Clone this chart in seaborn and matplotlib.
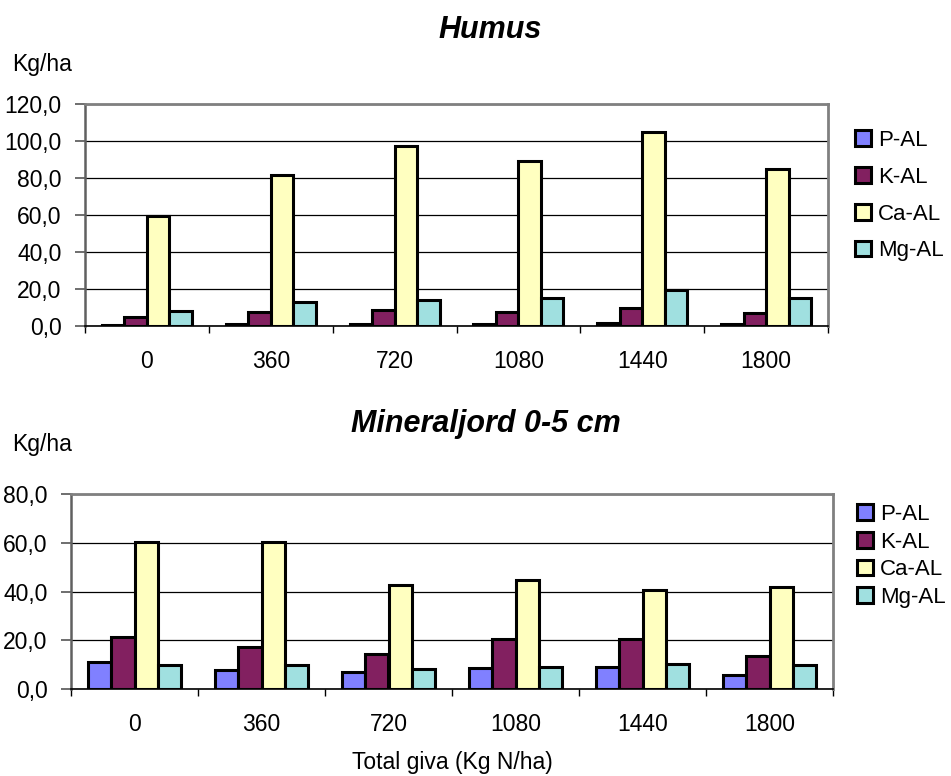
import matplotlib
matplotlib.use("Agg")
import matplotlib.pyplot as plt
from matplotlib.patches import Patch
from matplotlib.ticker import FuncFormatter, FixedLocator
import numpy as np
import pandas as pd
import seaborn as sns

# ---- data ----
giva = ["0", "360", "720", "1080", "1440", "1800"]
elements = ["P-AL", "K-AL", "Ca-AL", "Mg-AL"]

humus_P = [0.8, 1.2, 1.2, 1.2, 1.5, 1.2]
humus_K = [4.9, 7.7, 8.6, 7.6, 9.9, 7.0]
humus_Ca = [59.6, 81.4, 97.5, 89.0, 104.7, 84.9]
humus_Mg = [8.1, 13.0, 14.2, 15.3, 19.3, 15.0]

mineral_P = [11.2, 7.8, 7.0, 8.8, 8.9, 5.8]
mineral_K = [21.5, 17.3, 14.5, 20.7, 20.7, 13.7]
mineral_Ca = [60.4, 60.4, 42.6, 44.8, 40.8, 41.8]
mineral_Mg = [9.9, 9.9, 8.1, 8.9, 10.4, 9.9]

humus_ticks = [0, 20, 40, 60, 80, 100, 120]
mineral_ticks = [0, 20, 40, 60, 80]

colors = ["#8080FF", "#822060", "#FFFFC0", "#A0E0E0"]


def long_df(series):
    rows = []
    for el, vals in zip(elements, series):
        for g, v in zip(giva, vals):
            rows.append({"giva": g, "element": el, "value": v})
    return pd.DataFrame(rows)


df_h = long_df([humus_P, humus_K, humus_Ca, humus_Mg])
df_m = long_df([mineral_P, mineral_K, mineral_Ca, mineral_Mg])

sns.set_style("white")
plt.rcParams["font.family"] = ["Liberation Sans", "DejaVu Sans"]
plt.rcParams["text.color"] = "black"
plt.rcParams["xtick.color"] = "black"
plt.rcParams["ytick.color"] = "black"
plt.rcParams["axes.labelcolor"] = "black"

W, H = 951, 776
fig = plt.figure(figsize=(W / 100, H / 100), dpi=100)

def fx(px):
    return px / W

def fy(py):
    return 1 - py / H

ax1 = fig.add_axes([fx(85), fy(326), fx(828) - fx(85), fy(104) - fy(326)])
ax2 = fig.add_axes([fx(71), fy(689), fx(833) - fx(71), fy(494) - fy(689)])

fmt = FuncFormatter(lambda v, p: f"{v:.1f}".replace(".", ","))

for ax, df, ticks in [(ax1, df_h, humus_ticks), (ax2, df_m, mineral_ticks)]:
    sns.barplot(data=df, x="giva", y="value", hue="element", order=giva,
                hue_order=elements, palette=colors, width=0.727,
                edgecolor="black", linewidth=2.2, ax=ax, legend=False,
                saturation=1)
    ax.set_xlim(-0.5, 5.5)
    ax.set_ylim(ticks[0], ticks[-1])
    ax.yaxis.set_major_locator(FixedLocator(ticks))
    ax.yaxis.set_major_formatter(fmt)
    ax.yaxis.grid(True, color="black", lw=0.9)
    ax.set_axisbelow(True)
    ax.set_xlabel("")
    ax.set_ylabel("")
    ax.xaxis.set_minor_locator(FixedLocator(np.arange(-0.5, 6.0, 1.0)))
    ax.tick_params(axis="x", which="major", length=0, pad=17, labelsize=16.5,
                   labelcolor="black")
    ax.tick_params(axis="x", which="minor", length=5, width=1, color="black",
                   direction="out", bottom=True)
    ax.tick_params(axis="y", which="major", length=7, width=1.2,
                   color="#555555", direction="out", left=True, pad=10,
                   labelsize=16.5, labelcolor="black")
    for s in ["top", "right"]:
        ax.spines[s].set_color("#808080")
        ax.spines[s].set_linewidth(2)
        ax.spines[s].set_visible(True)
    ax.spines["left"].set_color("#606060")
    ax.spines["left"].set_linewidth(1.8)
    ax.spines["bottom"].set_color("black")
    ax.spines["bottom"].set_linewidth(1.2)

handles = [Patch(facecolor=c, edgecolor="black", linewidth=2.2) for c in colors]

fig.legend(handles, elements, loc="upper left",
           bbox_to_anchor=(fx(855), fy(130)), frameon=False, fontsize=16,
           handlelength=0.72, handleheight=0.72, handletextpad=0.3,
           labelspacing=0.71, borderpad=0, borderaxespad=0)
fig.legend(handles, elements, loc="upper left",
           bbox_to_anchor=(fx(857), fy(504)), frameon=False, fontsize=16,
           handlelength=0.72, handleheight=0.72, handletextpad=0.3,
           labelspacing=0.3, borderpad=0, borderaxespad=0)

fig.text(fx(490), fy(30), "Humus", fontsize=22, fontweight="bold",
         fontstyle="italic", ha="center", va="center")
fig.text(fx(486), fy(424), "Mineraljord 0-5 cm", fontsize=22,
         fontweight="bold", fontstyle="italic", ha="center", va="center")
fig.text(fx(12), fy(64), "Kg/ha", fontsize=16.5, ha="left", va="center")
fig.text(fx(12), fy(445), "Kg/ha", fontsize=16.5, ha="left", va="center")
fig.text(fx(452), fy(763), "Total giva (Kg N/ha)", fontsize=16.5,
         ha="center", va="center")

fig.savefig("out.png", dpi=100)
